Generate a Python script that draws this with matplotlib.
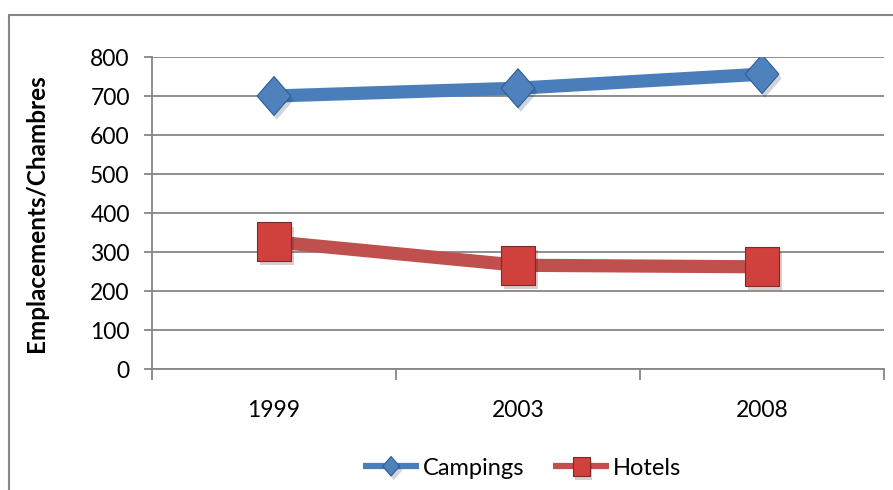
import matplotlib
matplotlib.use("Agg")
import matplotlib.pyplot as plt
from matplotlib.patches import Rectangle
import matplotlib.patheffects as pe

years = ["1999", "2003", "2008"]
campings = [700, 720, 756]
hotels = [326, 266, 262]
y_ticks = [0, 100, 200, 300, 400, 500, 600, 700, 800]

plt.rcParams["font.family"] = ["Lato", "DejaVu Sans"]

fig = plt.figure(figsize=(8.93, 4.90), dpi=100)
# outer chart frame
fig.patches.append(Rectangle((9 / 893, -0.1), 1.2, 1 - 15 / 490 + 0.1,
                             transform=fig.transFigure, fill=False,
                             edgecolor="#868686", linewidth=1.5, zorder=0))

ax = fig.add_axes([152 / 893, 1 - 369 / 490, (884 - 152) / 893, (369 - 57) / 490])
x = list(range(len(years)))

# slightly tall diamond / square markers
diamond = [(0, 1), (0.87, 0), (0, -1), (-0.87, 0), (0, 1)]
square = [(-0.87, -1), (0.87, -1), (0.87, 1), (-0.87, 1), (-0.87, -1)]

shadow = [pe.SimplePatchShadow(offset=(2, -3), alpha=0.2), pe.Normal()]

ax.plot(x, campings, color="#4A7EBB", linewidth=9.5, solid_capstyle="butt",
        marker=diamond, markersize=28, markerfacecolor="#4F81BD",
        markeredgecolor="#2C5D96", markeredgewidth=0.8, label="Campings",
        zorder=3, path_effects=shadow)
ax.plot(x, hotels, color="#C0504D", linewidth=9.5, solid_capstyle="butt",
        marker=square, markersize=28, markerfacecolor="#D0403D",
        markeredgecolor="#7E2A28", markeredgewidth=0.8, label="Hotels",
        zorder=3, path_effects=shadow)

ax.set_xlim(-0.5, len(years) - 0.5)
ax.set_ylim(0, 800)
ax.set_yticks(y_ticks)
ax.set_yticklabels([str(v) for v in y_ticks], fontsize=16.5)
ax.set_xticks(x)
ax.set_xticklabels(years, fontsize=16.5)
ax.tick_params(axis="x", length=0, pad=22)
ax.set_xticks([i - 0.5 for i in range(len(years) + 1)], minor=True)
ax.tick_params(axis="x", which="minor", length=8, width=1.3, color="#868686", direction="out")
ax.tick_params(axis="y", length=6, width=1.3, color="#868686", direction="out", pad=10)

ax.grid(axis="y", color="#868686", linewidth=1.3)
ax.set_axisbelow(True)
for side in ("top", "right"):
    ax.spines[side].set_visible(False)
for side in ("left", "bottom"):
    ax.spines[side].set_color("#868686")
    ax.spines[side].set_linewidth(1.3)

ax.set_ylabel("Emplacements/Chambres", fontsize=17.5, fontweight="bold", labelpad=30)

leg = fig.legend(loc="center", bbox_to_anchor=(522 / 893, 1 - 468 / 490), ncol=2,
                 frameon=False, fontsize=17, handlelength=2.4, markerscale=0.5,
                 columnspacing=1.2, handletextpad=0.15)
for line in leg.get_lines():
    line.set_linewidth(4.5)

fig.savefig("out.png", dpi=100)
